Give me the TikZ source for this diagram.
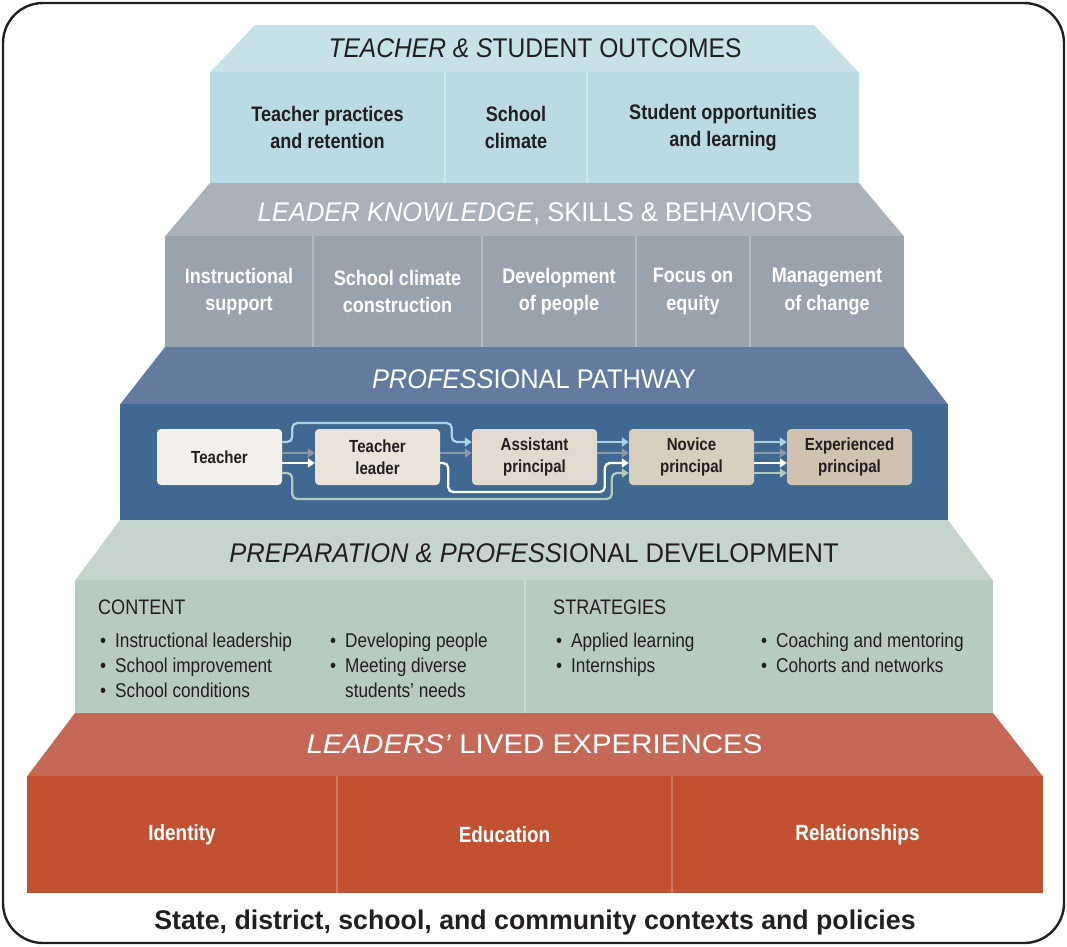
\documentclass[tikz,border=0pt]{standalone}
\usepackage{graphicx}
\usepackage{fontspec}
\setmainfont{Liberation Sans}[FakeStretch=0.86]
\usetikzlibrary{calc,arrows.meta}
\definecolor{aT}{HTML}{C6E1E7}
\definecolor{aF}{HTML}{BADBE3}
\definecolor{aD}{HTML}{D2E8ED}
\definecolor{bT}{HTML}{A9B1B9}
\definecolor{bF}{HTML}{99A3AE}
\definecolor{bD}{HTML}{B2BAC2}
\definecolor{cT}{HTML}{627B9E}
\definecolor{cF}{HTML}{3F6990}
\definecolor{dT}{HTML}{C5D5CD}
\definecolor{dF}{HTML}{B7CBC1}
\definecolor{dD}{HTML}{CCDAD3}
\definecolor{eT}{HTML}{C66856}
\definecolor{eF}{HTML}{C25132}
\definecolor{eD}{HTML}{D07863}
\definecolor{ink}{HTML}{231F20}
\definecolor{pA}{HTML}{F3F0EB}
\definecolor{pB}{HTML}{EAE3D9}
\definecolor{pC}{HTML}{E2DACE}
\definecolor{pD}{HTML}{D8CEBD}
\definecolor{pE}{HTML}{CFC3B0}
\definecolor{arLB}{HTML}{A8D3E4}
\definecolor{arGR}{HTML}{8C99A7}
\definecolor{arSG}{HTML}{B3C9BE}
\tikzset{
  cell/.style={inner sep=0pt, outer sep=0pt, align=center, font=\bfseries\fontsize{21}{27.5}\selectfont},
  panel/.style={inner sep=0pt, outer sep=0pt},
  divline/.style={line width=1.3pt},
  tiertitle/.style={inner sep=0pt, anchor=base, font=\fontsize{27}{30}\selectfont},
  listline/.style={inner sep=0pt, anchor=base west, text=ink, font=\fontsize{20}{24}\selectfont},
  listhead/.style={inner sep=0pt, anchor=base west, text=ink, font=\fontsize{21}{24}\selectfont},
  pbox/.style={rounded corners=4pt, minimum width=125pt, minimum height=56pt, inner sep=0pt, align=center, text=ink, font=\bfseries\fontsize{17.5}{22}\selectfont},
  flow/.style={line width=2.3pt, rounded corners=5pt, -{Triangle[length=7pt,width=9pt]}}
}
\newcommand{\bul}{\makebox[15pt][l]{\textbullet}}
\begin{document}
\begin{tikzpicture}[x=1pt,y=-1pt]
\useasboundingbox (0,0) rectangle (1067,946);
\fill[white] (0,0) rectangle (1067,946);
\draw[line width=2.4pt, ink, rounded corners=40pt] (3,3) rectangle (1064,943);

% ---------- tier 1
\fill[aT] (255,25) -- (814,25) -- (859,72.5) -- (210,72.5) -- cycle;
\node[cell, fill=aF, text=ink, minimum width=235pt, minimum height=111pt] (a1) at (327.5,127.5) {Teacher practices\\and retention};
\node[cell, fill=aF, text=ink, minimum width=142pt, minimum height=111pt] (a2) at (516,127.5) {School\\climate};
\node[cell, fill=aF, text=ink, minimum width=272pt, minimum height=111pt] (a3) at (723,127.5) {Student opportunities\\and learning};
\draw[divline, aD] (a1.north east) -- (a1.south east);
\draw[divline, aD] (a2.north east) -- (a2.south east);
\node[tiertitle, text=ink] (t1) at (535,57) {\scalebox{1.06}[1]{\textit{TEACHER \& S}TUDENT OUTCOMES}};

% ---------- tier 2
\fill[bT] (210,183) -- (859,183) -- (904,236.5) -- (165,236.5) -- cycle;
\node[cell, fill=bF, text=white, minimum width=148pt, minimum height=111pt] (b1) at (239,291.5) {Instructional\\support};
\node[cell, fill=bF, text=white, minimum width=169pt, minimum height=111pt] (b2) at (397.5,291.5) {School climate\\construction};
\node[cell, fill=bF, text=white, minimum width=154pt, minimum height=111pt] (b3) at (559,291.5) {Development\\of people};
\node[cell, fill=bF, text=white, minimum width=114pt, minimum height=111pt] (b4) at (693,291.5) {Focus on\\equity};
\node[cell, fill=bF, text=white, minimum width=154pt, minimum height=111pt] (b5) at (827,291.5) {Management\\of change};
\draw[divline, bD] (b1.north east) -- (b1.south east);
\draw[divline, bD] (b2.north east) -- (b2.south east);
\draw[divline, bD] (b3.north east) -- (b3.south east);
\draw[divline, bD] (b4.north east) -- (b4.south east);
\node[tiertitle, text=white] (t2) at (535,221) {\scalebox{1.10}[1]{\textit{LEADER KNOWLEDGE}, SKILLS \& BEHAVIORS}};

% ---------- tier 3
\fill[cT] (165,347) -- (904,347) -- (948,404.5) -- (120,404.5) -- cycle;
\node[panel, fill=cF, minimum width=828pt, minimum height=116pt] (c1) at (534,462) {};
\node[tiertitle, text=white] (t3) at (534,388) {\scalebox{1.095}[1]{\textit{PROFESS}IONAL PATHWAY}};

\node[pbox, fill=pA] (tea) at (219.5,457) {Teacher};
\node[pbox, fill=pB] (tl) at (377.5,457) {Teacher\\leader};
\node[pbox, fill=pC] (ap) at (534.5,457) {Assistant\\principal};
\node[pbox, fill=pD] (np) at (691.5,457) {Novice\\principal};
\node[pbox, fill=pE] (ep) at (849.5,457) {Experienced\\principal};

% arrows teacher
\draw[flow, arLB] ($(tea.east)+(0,-15)$) -- ++(10,0) -- ++(0,-19) -- ($(ap.west)+(-20,-34)$) -- ($(ap.west)+(-20,-15)$) -- ($(ap.west)+(0,-15)$);
\draw[flow, arGR] ($(tea.east)+(0,-4)$) -- ($(tl.west)+(0,-4)$);
\draw[flow, white] ($(tea.east)+(0,6)$) -- ($(tl.west)+(0,6)$);
\draw[flow, arSG] ($(tea.east)+(0,16)$) -- ++(10,0) -- ++(0,26) -- ($(np.west)+(-17,42)$) -- ($(np.west)+(-17,16)$) -- ($(np.west)+(0,16)$);
% teacher leader
\draw[flow, arGR] ($(tl.east)+(0,-4)$) -- ($(ap.west)+(0,-4)$);
\draw[flow, white] ($(tl.east)+(0,6)$) -- ++(8,0) -- ++(0,29) -- ($(np.west)+(-24,35)$) -- ($(np.west)+(-24,6)$) -- ($(np.west)+(0,6)$);
% assistant principal
\draw[flow, arLB] ($(ap.east)+(0,-15)$) -- ($(np.west)+(0,-15)$);
\draw[flow, arGR] ($(ap.east)+(0,-4)$) -- ($(np.west)+(0,-4)$);
% novice principal
\draw[flow, arLB] ($(np.east)+(0,-15)$) -- ($(ep.west)+(0,-15)$);
\draw[flow, arGR] ($(np.east)+(0,-4)$) -- ($(ep.west)+(0,-4)$);
\draw[flow, white] ($(np.east)+(0,6)$) -- ($(ep.west)+(0,6)$);
\draw[flow, arSG] ($(np.east)+(0,16)$) -- ($(ep.west)+(0,16)$);

% ---------- tier 4
\fill[dT] (120,520) -- (948,520) -- (993,580.5) -- (75,580.5) -- cycle;
\node[panel, fill=dF, minimum width=450pt, minimum height=133pt] (d1) at (300,646.5) {};
\node[panel, fill=dF, minimum width=468pt, minimum height=133pt] (d2) at (759,646.5) {};
\draw[divline, dD] (d1.north east) -- (d1.south east);
\node[tiertitle, text=ink] (t4) at (534,562) {\scalebox{1.10}[1]{\textit{PREPARATION \& PROFESS}IONAL DEVELOPMENT}};

\node[listhead] (h1) at (98,614) {CONTENT};
\node[listline] (l1) at (100,647) {\bul Instructional leadership};
\node[listline] (l2) at (100,672) {\bul School improvement};
\node[listline] (l3) at (100,697) {\bul School conditions};
\node[listline] (l4) at (330,647) {\bul Developing people};
\node[listline] (l5) at (330,672) {\bul Meeting diverse};
\node[listline] (l6) at (330,697) {\hspace*{15pt}students’ needs};
\node[listhead] (h2) at (553,614) {STRATEGIES};
\node[listline] (s1) at (556,647) {\bul Applied learning};
\node[listline] (s2) at (556,672) {\bul Internships};
\node[listline] (s3) at (761,647) {\bul Coaching and mentoring};
\node[listline] (s4) at (761,672) {\bul Cohorts and networks};

% ---------- tier 5
\fill[eT] (75,713) -- (993,713) -- (1043,776.5) -- (27,776.5) -- cycle;
\node[cell, fill=eF, text=white, font=\bfseries\fontsize{22}{26}\selectfont, minimum width=310pt, minimum height=117pt] (e1) at (182,834.5) {Identity};
\node[cell, fill=eF, text=white, font=\bfseries\fontsize{22}{26}\selectfont, minimum width=335pt, minimum height=117pt] (e2) at (504.5,834.5) {Education};
\node[cell, fill=eF, text=white, font=\bfseries\fontsize{22}{26}\selectfont, minimum width=371pt, minimum height=117pt] (e3) at (857.5,834.5) {Relationships};
\draw[divline, eD] (e1.north east) -- (e1.south east);
\draw[divline, eD] (e2.north east) -- (e2.south east);
\node[tiertitle, text=white] (t5) at (534.5,753) {\scalebox{1.27}[1]{\textit{LEADERS’} LIVED EXPERIENCES}};

\node[inner sep=0pt, anchor=base, text=ink, font=\bfseries\fontsize{27}{30}\selectfont] (foot) at (535,929) {\scalebox{1.15}[1]{State, district, school, and community contexts and policies}};
\end{tikzpicture}
\end{document}
